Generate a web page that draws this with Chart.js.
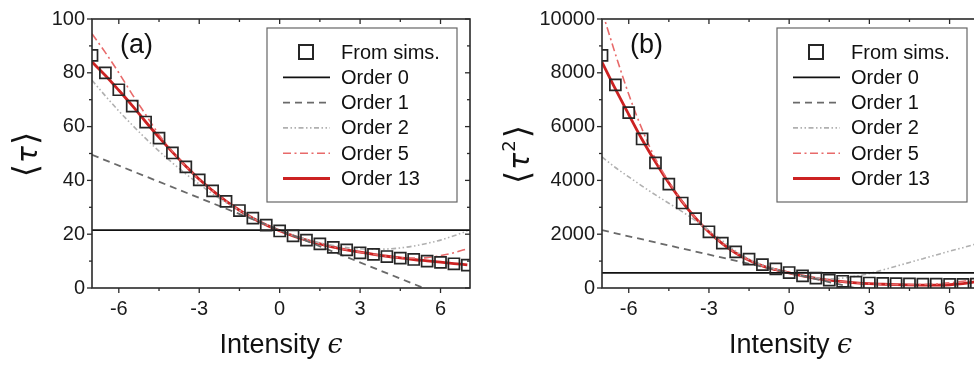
<!DOCTYPE html>
<html><head><meta charset="utf-8">
<script src="https://cdn.jsdelivr.net/npm/chart.js@4.4.1/dist/chart.umd.min.js"></script>
<style>
html,body{margin:0;padding:0;background:#fff;overflow:hidden;width:974px;height:365px;}
#ca{position:absolute;left:0;top:0;}
#cb{position:absolute;left:490px;top:0;}
</style></head><body>
<canvas id="ca" width="485" height="365"></canvas>
<canvas id="cb" width="510" height="365"></canvas>
<script>
// ---------- data ----------
const eps = [-7,-6.5,-6,-5.5,-5,-4.5,-4,-3.5,-3,-2.5,-2,-1.5,-1,-0.5,0,0.5,1,1.5,2,2.5,3,3.5,4,4.5,5,5.5,6,6.5,7];
const lineX0 = [-7, 7.1];
const lineX1 = [-7, 0, 7.1];

// panel (a): <tau>
const simsA    = [86.5,80,73.7,67.6,61.7,55.7,50.2,45,40.2,36.1,32.2,28.8,26,23.4,21.2,19.4,17.8,16.4,15.1,14.2,13.1,12.5,11.7,11.1,10.6,10,9.5,9,8.5];
const order0A  = [21.5, 21.5];
const order1A  = [49.5, 21.5, -6.9];
const order2A  = [77.2,71.4,65.8,60.6,55.6,50.9,46.5,42.4,38.6,35.0,31.8,28.8,26.1,23.6,21.5,19.6,18.1,16.8,15.8,15.0,14.6,14.4,14.5,14.9,15.6,16.6,17.8,19.4,21.2];
const order5A  = [94.5,87.5,80,72,64.5,57,50.8,45.2,40.3,36.2,32.3,28.9,25.9,23.4,21.3,19.4,17.8,16.4,15.2,14.2,13.3,12.5,11.8,11.3,11.1,11.3,12,13.1,14.6];
const order13A = [84,79,73.5,67.8,61.8,56,50.5,45.3,40.4,36.2,32.3,28.9,25.9,23.4,21.3,19.4,17.8,16.4,15.2,14.2,13.3,12.5,11.8,11.2,10.6,10.1,9.6,9.1,8.6];

// panel (b): <tau^2>
const simsB    = [8650,7550,6520,5540,4650,3860,3160,2575,2090,1670,1340,1075,870,710,575,450,366,293,250,215,185,170,160,150,145,140,135,135,140];
const order0B  = [560, 560];
const order1B  = [2150, 560, -1050];
const order2B  = [4870,4480,4130,3790,3460,3150,2840,2500,2150,1760,1370,1080,860,700,560,450,380,340,370,440,540,670,810,950,1090,1230,1370,1500,1640];
const order5B  = [10300,8700,7200,5900,4800,3950,3220,2600,2080,1650,1300,1030,820,680,560,450,360,290,235,190,160,140,125,120,130,150,190,250,330];
const order13B = [8400,7400,6450,5520,4680,3900,3200,2600,2080,1650,1300,1030,820,680,560,450,360,290,235,190,160,140,125,115,110,110,120,160,240];

// ticks
const xTicks  = [-6,-3,0,3,6];
const xMinor  = [-4.5,-1.5,1.5,4.5];
const yTicksA = [0,20,40,60,80,100];
const yMinorA = [10,30,50,70,90];
const yTicksB = [0,2000,4000,6000,8000,10000];
const yMinorB = [1000,3000,5000,7000,9000];

const SANS = "'Liberation Sans', Arial, Helvetica, sans-serif";

const pts = (xs, ys) => xs.map((x, i) => ({x, y: ys[i]}));

const decor = {
  id: 'decor',
  afterDatasetsDraw(chart, args, o) {
    const {ctx, chartArea: a, scales: {x, y}} = chart;
    ctx.save();
    // frame
    ctx.strokeStyle = '#2a2a2a'; ctx.lineWidth = 1.6;
    ctx.strokeRect(a.left, a.top, a.right - a.left, a.bottom - a.top);
    // ticks
    const seg = (x1, y1, x2, y2) => { ctx.beginPath(); ctx.moveTo(x1, y1); ctx.lineTo(x2, y2); ctx.stroke(); };
    ctx.lineWidth = 1.3;
    const xt = (vals, L) => vals.forEach(v => { const p = x.getPixelForValue(v); seg(p, a.bottom, p, a.bottom + L); seg(p, a.top, p, a.top + L); });
    const yt = (vals, L) => vals.forEach(v => { const p = y.getPixelForValue(v); seg(a.left, p, a.left - L, p); seg(a.right, p, a.right - L, p); });
    xt(o.xMajor, 5); xt(o.xMinor, 3);
    yt(o.yMajor, 5); yt(o.yMinor, 3);

    // panel label
    ctx.fillStyle = '#111';
    ctx.font = '27px ' + SANS;
    ctx.textBaseline = 'middle'; ctx.textAlign = 'left';
    ctx.fillText(o.panel, a.left + 28, 46);

    // legend
    const lx = a.left + 175, ly = 28, lw = 190, lh = 174;
    ctx.fillStyle = '#fff'; ctx.fillRect(lx, ly, lw, lh);
    ctx.strokeStyle = '#666'; ctx.lineWidth = 1.2;
    ctx.strokeRect(lx, ly, lw, lh);
    chart.data.datasets.forEach((ds, i) => {
      const ry = ly + 24 + i * 25.3;
      ctx.save();
      if (i === 0) {
        ctx.strokeStyle = ds.borderColor; ctx.lineWidth = 2;
        ctx.strokeRect(lx + 39 - 7, ry - 7, 14, 14);
      } else {
        ctx.strokeStyle = ds.borderColor; ctx.lineWidth = ds.borderWidth;
        ctx.setLineDash(ds.borderDash || []);
        seg(lx + 16, ry, lx + 63, ry);
      }
      ctx.restore();
      ctx.fillStyle = '#111'; ctx.font = '20px ' + SANS;
      ctx.textAlign = 'left'; ctx.textBaseline = 'middle';
      ctx.fillText(ds.label, lx + 74, ry + 1);
    });

    // x title: "Intensity ϵ"
    ctx.fillStyle = '#111'; ctx.textBaseline = 'middle';
    const f1 = '27px ' + SANS, f2 = 'italic 27px "DejaVu Serif", serif';
    ctx.font = f1; const w1 = ctx.measureText('Intensity ').width;
    ctx.font = f2; const w2 = ctx.measureText('ϵ').width;
    let sx = (a.left + a.right) / 2 - (w1 + w2) / 2;
    ctx.font = f1; ctx.textAlign = 'left'; ctx.fillText('Intensity ', sx, 346);
    ctx.font = f2; ctx.fillText('ϵ', sx + w1, 346);

    // y title: ⟨τ⟩ / ⟨τ²⟩ rotated
    ctx.save();
    ctx.translate(o.ytx, (a.top + a.bottom) / 2);
    ctx.rotate(-Math.PI / 2);
    const fb = '34px "DejaVu Sans", sans-serif', ft = 'italic 28px "DejaVu Sans", sans-serif', fs = '18px "DejaVu Sans", sans-serif';
    ctx.font = fb; const wb = ctx.measureText('⟨').width;
    ctx.font = ft; const wt = ctx.measureText('τ').width;
    ctx.font = fs; const ws = o.sup ? ctx.measureText(o.sup).width + 2 : 0;
    const tot = wb * 2 + wt + ws + 4;
    let cx = -tot / 2;
    ctx.textAlign = 'left'; ctx.textBaseline = 'middle';
    ctx.font = fb; ctx.fillText('⟨', cx, 0); cx += wb + 1;
    ctx.font = ft; ctx.fillText('τ', cx, 2); cx += wt + 1;
    if (o.sup) { ctx.font = fs; ctx.fillText(o.sup, cx, -10); cx += ws; }
    ctx.font = fb; ctx.fillText('⟩', cx, 0);
    ctx.restore();

    ctx.restore();
  }
};

function build(id, d) {
  const curve = (label, ys, color, width, dash, xs) => ({
    label, data: pts(xs || eps, ys), showLine: true, borderColor: color, backgroundColor: color,
    borderWidth: width, borderDash: dash, pointRadius: 0, tension: 0.35, cubicInterpolationMode: 'monotone'
  });
  const datasets = [
    {label: 'From sims.', data: pts(eps, d.sims), showLine: false, pointStyle: 'rect', pointRadius: 7.8,
     borderColor: '#262626', backgroundColor: 'rgba(0,0,0,0)', pointBorderWidth: 1.7, borderWidth: 1.7, clip: 0},
    curve('Order 0', d.o0, '#111111', 1.8, [], lineX0),
    curve('Order 1', d.o1, '#6a6a6a', 1.8, [7, 5], lineX1),
    curve('Order 2', d.o2, '#b0b0b0', 1.6, [5, 2.5, 1.5, 2.5, 1.5, 2.5]),
    curve('Order 5', d.o5, '#e86a6a', 1.6, [8, 3.5, 2, 3.5]),
    curve('Order 13', d.o13, '#cc2222', 2.8, []),
  ];
  return new Chart(document.getElementById(id), {
    type: 'scatter',
    data: {datasets},
    plugins: [decor],
    options: {
      responsive: false, animation: false, events: [], devicePixelRatio: 1,
      layout: {padding: {left: 0, top: 15, right: d.padRight, bottom: 0}},
      plugins: {legend: {display: false}, tooltip: {enabled: false},
        decor: {xMajor: xTicks, xMinor, yMajor: d.yTicks, yMinor: d.yMinor, panel: d.panel, ytx: d.ytx, sup: d.sup}},
      scales: {
        x: {type: 'linear', min: -7, max: 7.1,
          grid: {display: false, drawTicks: false}, border: {display: false},
          afterFit: s => { s.height = 77; },
          afterBuildTicks: s => { s.ticks = xTicks.map(v => ({value: v})); },
          ticks: {padding: 9, color: '#1a1a1a', font: {family: SANS, size: 20}, callback: v => String(v), maxRotation: 0}},
        y: {type: 'linear', min: d.yMin, max: d.yMax,
          grid: {display: false, drawTicks: false}, border: {display: false},
          afterFit: s => { s.width = d.yWidth; },
          afterBuildTicks: s => { s.ticks = d.yTicks.map(v => ({value: v})); },
          ticks: {padding: 7, color: '#1a1a1a', font: {family: SANS, size: 20}, callback: v => String(v)}}
      }
    }
  });
}

build('ca', {sims: simsA, o0: order0A, o1: order1A, o2: order2A, o5: order5A, o13: order13A,
  yMin: 0, yMax: 100, yTicks: yTicksA, yMinor: yMinorA, yWidth: 92, padRight: 15, panel: '(a)', ytx: 28, sup: ''});
build('cb', {sims: simsB, o0: order0B, o1: order1B, o2: order2B, o5: order5B, o13: order13B,
  yMin: 0, yMax: 10000, yTicks: yTicksB, yMinor: yMinorB, yWidth: 112, padRight: 21, panel: '(b)', ytx: 30, sup: '2'});
</script>
</body></html>
